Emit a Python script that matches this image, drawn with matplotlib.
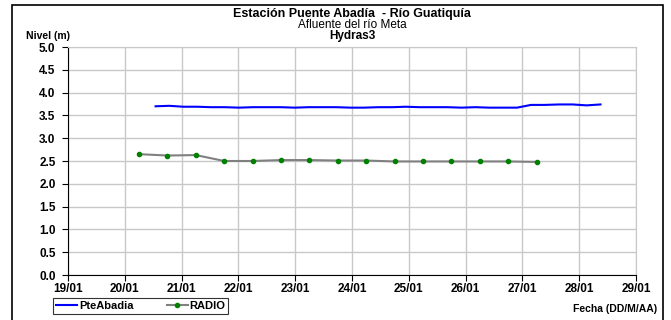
import matplotlib
matplotlib.use("Agg")
import matplotlib.pyplot as plt
import matplotlib.dates as mdates
from matplotlib.patches import Rectangle
import datetime as dt

plt.rcParams['font.family'] = ['Liberation Sans', 'DejaVu Sans']

# PteAbadia series (~6-hourly readings)
pte_start = "2024-01-20 13:00"
pte_values = [3.70, 3.71, 3.69, 3.69, 3.68, 3.68, 3.67, 3.68, 3.68, 3.68,
              3.67, 3.68, 3.68, 3.68, 3.67, 3.67, 3.68, 3.68, 3.69, 3.68,
              3.68, 3.68, 3.67, 3.68, 3.67, 3.67, 3.67, 3.73, 3.73, 3.74,
              3.74, 3.72, 3.74]
pte_step_hours = 5.875

# RADIO series (12-hourly)
radio_start = "2024-01-20 06:00"
radio_values = [2.65, 2.62, 2.63, 2.50, 2.50, 2.52, 2.52, 2.51, 2.51,
                2.49, 2.49, 2.49, 2.49, 2.49, 2.48]

x_ticks = ["2024-01-%02d" % d for d in range(19, 30)]
y_ticks = [0.0, 0.5, 1.0, 1.5, 2.0, 2.5, 3.0, 3.5, 4.0, 4.5, 5.0]

t0 = dt.datetime.fromisoformat(pte_start)
pte_t = [t0 + dt.timedelta(hours=pte_step_hours * i) for i in range(len(pte_values))]
r0 = dt.datetime.fromisoformat(radio_start)
radio_t = [r0 + dt.timedelta(hours=12 * i) for i in range(len(radio_values))]
xt = [dt.datetime.fromisoformat(s) for s in x_ticks]

W, H = 671, 320
fig = plt.figure(figsize=(W / 100, H / 100), dpi=100)
fig.patches.append(Rectangle((12 / W, -0.05), (663 - 12) / W, 1.05 - 5 / H,
                             transform=fig.transFigure, fill=False,
                             edgecolor='black', linewidth=1.2))

ax = fig.add_axes([68 / W, 1 - 275 / H, (636 - 68) / W, (275 - 47) / H])
ax.plot(pte_t, pte_values, color='#0000ff', lw=1.5, label='PteAbadia', zorder=3)
ax.plot(radio_t, radio_values, color='#808080', lw=1.5, marker='o', ms=3.0,
        mfc='#008000', mec='#008000', label='RADIO', zorder=3)

ax.set_xlim(xt[0], xt[-1])
ax.set_ylim(0, 5)
ax.set_xticks(xt)
ax.xaxis.set_major_formatter(mdates.DateFormatter('%d/%m'))
ax.set_yticks(y_ticks)
ax.set_yticklabels(["%.1f" % v for v in y_ticks])
ax.grid(True, color='#c8c8c8', lw=1.0)
ax.set_axisbelow(True)
for s in ['top', 'right']:
    ax.spines[s].set_color('#c8c8c8')
for s in ['left', 'bottom']:
    ax.spines[s].set_color('black')
ax.tick_params(axis='both', labelsize=8.5, length=4, width=0.8, direction='out')
ax.tick_params(axis='y', pad=5)
ax.tick_params(axis='x', pad=1.5)
for lab in ax.get_xticklabels() + ax.get_yticklabels():
    lab.set_fontweight('bold')

cx = (68 + 636) / 2 / W
fig.text(cx, 1 - 14 / H, "Estación Puente Abadía  - Río Guatiquía", ha='center', va='center',
         fontsize=9, fontweight='bold')
fig.text(cx, 1 - 24.5 / H, "Afluente del río Meta", ha='center', va='center', fontsize=8.5)
fig.text(cx, 1 - 36 / H, "Hydras3", ha='center', va='center', fontsize=8.5, fontweight='bold')
fig.text(26 / W, 1 - 36 / H, "Nivel (m)", ha='left', va='center', fontsize=7.5, fontweight='bold')
fig.text(657 / W, 1 - 309 / H, "Fecha (DD/M/AA)", ha='right', va='center', fontsize=7.5,
         fontweight='bold')

leg = fig.legend(loc='center left', bbox_to_anchor=(50 / W, 1 - 306 / H), ncol=2,
                 frameon=True, fancybox=False, edgecolor='black',
                 handlelength=1.9, columnspacing=3.0, borderpad=0.25, handletextpad=0.15,
                 borderaxespad=0.3, prop={'weight': 'bold', 'size': 8})
leg.get_frame().set_linewidth(0.8)

fig.savefig("out.png", dpi=100)
